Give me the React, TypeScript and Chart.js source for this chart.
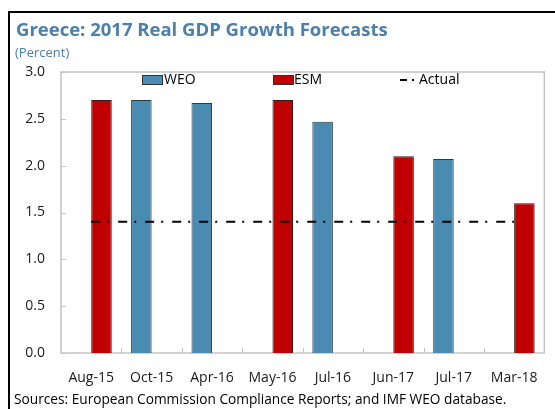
import React, { useEffect, useRef } from "react";
import { Chart, registerables } from "chart.js";

Chart.register(...registerables);

const categories = ["Aug-15", "Oct-15", "Apr-16", "May-16", "Jul-16", "Jun-17", "Jul-17", "Mar-18"];
const weoValues = [null, 2.7, 2.67, null, 2.47, null, 2.07, null];
const esmValues = [2.7, null, null, 2.7, null, 2.1, null, 1.6];
const actualValues = [1.4, 1.4, 1.4, 1.4, 1.4, 1.4, 1.4, 1.4];
const yTicks = [0, 0.5, 1, 1.5, 2, 2.5, 3];

const TITLE = "Greece: 2017 Real GDP Growth Forecasts";
const SUBTITLE = "(Percent)";
const FOOTER = "Sources: European Commission Compliance Reports; and IMF WEO database.";

const FONT = "'Open Sans', sans-serif";
const BLUE = "#4a8bb2";
const RED = "#c00000";
const TITLE_COLOR = "#4a7fae";
const DASH = [9, 7, 2, 9];

const decorPlugin = {
  id: "decor",
  beforeDatasetsDraw(chart: any) {
    const { ctx, chartArea } = chart;
    const { left, right, top, bottom } = chartArea;
    ctx.save();
    ctx.strokeStyle = "#c4c4c4";
    ctx.lineWidth = 1.5;
    ctx.strokeRect(left, top, right - left, bottom - top);
    const y = chart.scales.y;
    ctx.lineWidth = 1;
    yTicks.forEach((v) => {
      const py = Math.round(y.getPixelForValue(v)) + 0.5;
      ctx.beginPath();
      ctx.moveTo(left, py);
      ctx.lineTo(left + 5, py);
      ctx.stroke();
    });
    const n = categories.length;
    const w = (right - left) / n;
    for (let i = 1; i < n; i++) {
      const px = Math.round(left + i * w) + 0.5;
      ctx.beginPath();
      ctx.moveTo(px, bottom);
      ctx.lineTo(px, bottom - 5);
      ctx.stroke();
    }
    ctx.restore();
  },
  afterDraw(chart: any) {
    const { ctx, width, height } = chart;
    ctx.save();
    ctx.fillStyle = "#000";
    ctx.fillRect(8, 11, width - 8, 2);
    ctx.fillRect(8, 11, 2, height - 11);
    ctx.fillStyle = TITLE_COLOR;
    ctx.textBaseline = "alphabetic";
    ctx.textAlign = "left";
    ctx.font = `bold 18.5px ${FONT}`;
    ctx.fillText(TITLE, 16, 36);
    ctx.font = `13px ${FONT}`;
    ctx.fillText(SUBTITLE, 15, 57);
    ctx.fillStyle = "#000";
    ctx.font = `13.7px ${FONT}`;
    ctx.fillText(FOOTER, 14, 404);
    const ly = 80;
    ctx.font = `14px ${FONT}`;
    ctx.textBaseline = "middle";
    ctx.lineWidth = 1;
    ctx.strokeStyle = "#333";
    ctx.fillStyle = BLUE;
    ctx.fillRect(142.5, 75.5, 20, 9);
    ctx.strokeRect(142.5, 75.5, 20, 9);
    ctx.fillStyle = "#000";
    ctx.fillText("WEO", 164, ly);
    ctx.fillStyle = RED;
    ctx.fillRect(273.5, 75.5, 20, 9);
    ctx.strokeRect(273.5, 75.5, 20, 9);
    ctx.fillStyle = "#000";
    ctx.fillText("ESM", 294, ly);
    ctx.fillRect(400, ly - 1, 7, 2);
    ctx.fillRect(412, ly - 1, 2, 2);
    ctx.fillText("Actual", 419, ly);
    ctx.restore();
  },
};

export default function App() {
  const canvasRef = useRef<HTMLCanvasElement | null>(null);

  useEffect(() => {
    if (!canvasRef.current) return;
    const chart = new Chart(canvasRef.current, {
      type: "bar",
      data: {
        labels: categories,
        datasets: [
          {
            type: "line" as any,
            label: "Actual",
            data: actualValues,
            borderColor: "#000",
            borderWidth: 2,
            borderDash: DASH,
            pointRadius: 0,
            fill: false,
            order: 0,
          } as any,
          {
            label: "WEO",
            data: weoValues,
            backgroundColor: BLUE,
            borderColor: "#2e3a42",
            borderWidth: 1,
            categoryPercentage: 0.68,
            barPercentage: 1,
            order: 1,
          },
          {
            label: "ESM",
            data: esmValues,
            backgroundColor: RED,
            borderColor: "#3a1a1a",
            borderWidth: 1,
            categoryPercentage: 0.68,
            barPercentage: 1,
            order: 1,
          },
        ],
      },
      plugins: [decorPlugin],
      options: {
        animation: false,
        responsive: false,
        devicePixelRatio: 1,
        layout: { padding: { top: 72, right: 9, bottom: 0, left: 0 } },
        plugins: {
          legend: { display: false },
          tooltip: { enabled: false },
          title: { display: false },
        },
        scales: {
          x: {
            grid: { display: false, drawTicks: false },
            border: { display: false },
            ticks: {
              color: "#1a1a1a",
              font: { family: FONT, size: 14 },
              padding: 17,
              maxRotation: 0,
              autoSkip: false,
            },
            afterFit: (s: any) => {
              s.height = 56;
            },
          },
          y: {
            min: 0,
            max: 3,
            grid: { display: false, drawTicks: false },
            border: { display: false },
            ticks: {
              stepSize: 0.5,
              color: "#1a1a1a",
              font: { family: FONT, size: 14 },
              padding: 16,
              callback: (v: any) => Number(v).toFixed(1),
            },
            afterFit: (s: any) => {
              s.width = 61;
            },
          },
        },
      },
    });
    return () => chart.destroy();
  }, []);

  return (
    <div style={{ position: "fixed", left: 0, top: 0, width: 555, height: 409, background: "#fff" }}>
      <canvas ref={canvasRef} width={555} height={409} style={{ width: 555, height: 409 }} />
    </div>
  );
}
